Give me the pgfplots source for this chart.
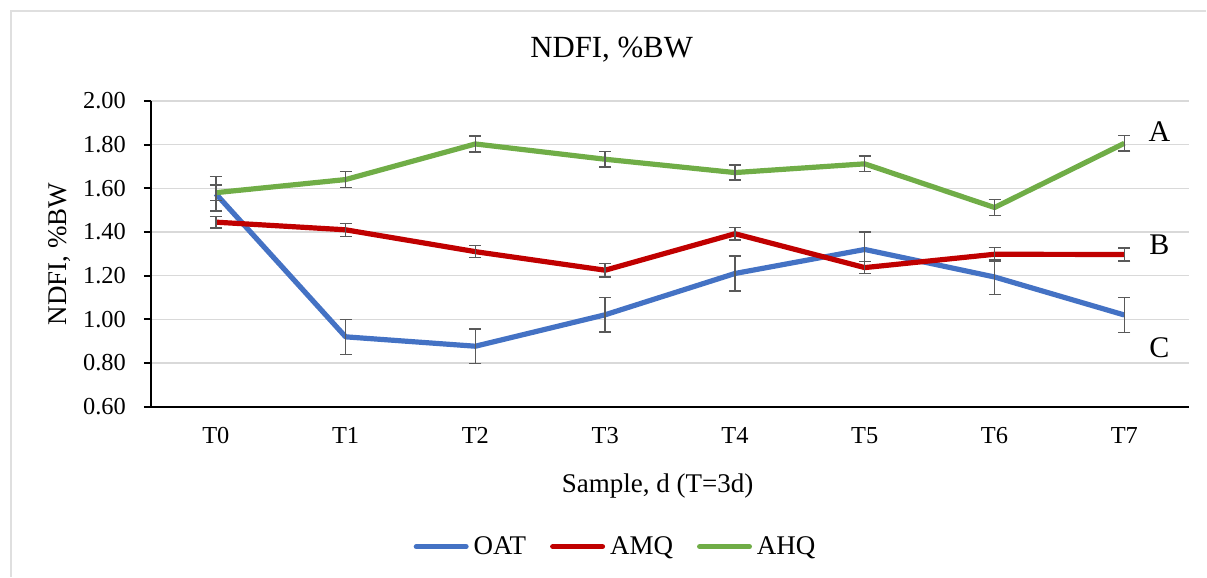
\documentclass[border=0pt]{standalone}
\usepackage{pgfplots}
\pgfplotsset{compat=1.18}
\usepackage{pgfplotstable}
\usepackage{fontspec}
\setmainfont{Liberation Serif}

\definecolor{oat}{HTML}{4472C4}
\definecolor{amq}{HTML}{C00000}
\definecolor{ahq}{HTML}{70AD47}
\definecolor{errc}{HTML}{595959}
\definecolor{gridc}{HTML}{D9D9D9}

\pgfplotstableread{
x y e
0 1.575 0.08
1 0.920 0.08
2 0.877 0.08
3 1.021 0.08
4 1.210 0.08
5 1.320 0.08
6 1.194 0.08
7 1.020 0.08
}\oatdata
\pgfplotstableread{
x y e
0 1.445 0.027
1 1.410 0.030
2 1.310 0.027
3 1.225 0.030
4 1.392 0.028
5 1.237 0.027
6 1.298 0.030
7 1.297 0.030
}\amqdata
\pgfplotstableread{
x y e
0 1.580 0.035
1 1.640 0.036
2 1.803 0.036
3 1.733 0.036
4 1.672 0.035
5 1.712 0.035
6 1.512 0.036
7 1.806 0.036
}\ahqdata

\begin{document}
\begin{tikzpicture}
\path (0,0) rectangle (603.5pt,288.5pt);
\draw[gray!25, line width=0.8pt] (5.5pt,0) -- (5.5pt,283pt) -- (603.5pt,283pt);
\begin{axis}[
  at={(75.5pt,85pt)}, anchor=south west,
  scale only axis, width=519.5pt, height=153pt,
  xmin=-0.5, xmax=7.5, ymin=0.6, ymax=2.0,
  axis x line*=bottom, axis y line*=left,
  axis line style={black, line width=1pt, -},
  xtick={0,1,2,3,4,5,6,7},
  xticklabels={T0,T1,T2,T3,T4,T5,T6,T7},
  minor xtick={-0.5,0.5,1.5,2.5,3.5,4.5,5.5,6.5,7.5},
  ytick={0.6,0.8,1.0,1.2,1.4,1.6,1.8,2.0},
  tick align=outside,
  x tick style={draw=none},
  minor x tick style={black, line width=1pt},
  minor tick length=4pt,
  y tick style={black, line width=1pt},
  major tick length=3.5pt,
  ymajorgrids, grid style={gridc, line width=0.8pt},
  tick label style={font=\fontsize{12.2}{14}\selectfont},
  /pgf/number format/assume math mode=true,
  yticklabel style={/pgf/number format/fixed, /pgf/number format/fixed zerofill, /pgf/number format/precision=2, xshift=-5.5pt},
  xticklabel style={yshift=-3.3pt},
  legend style={at={(0.4485,-0.4575)}, anchor=center, draw=none,
    font=\fontsize{13.5}{15}\selectfont, legend columns=3,
    /tikz/every even column/.append style={column sep=10pt},
    /tikz/every odd column/.append style={column sep=0.5pt}},
  legend cell align=left,
  legend image code/.code={\draw[#1, line cap=round] (1.3pt,0pt) -- (26.2pt,0pt);},
  clip=false,
]
\addplot[oat, line width=2.6pt, line join=round,
  error bars/.cd, y dir=both, y explicit,
  error bar style={errc, line width=0.75pt},
  error mark options={errc, rotate=90, mark size=3pt, line width=0.75pt}]
  table[x=x, y=y, y error=e]{\oatdata};
\addlegendentry{OAT}
\addplot[amq, line width=2.6pt, line join=round,
  error bars/.cd, y dir=both, y explicit,
  error bar style={errc, line width=0.75pt},
  error mark options={errc, rotate=90, mark size=3pt, line width=0.75pt}]
  table[x=x, y=y, y error=e]{\amqdata};
\addlegendentry{AMQ}
\addplot[ahq, line width=2.6pt, line join=round,
  error bars/.cd, y dir=both, y explicit,
  error bar style={errc, line width=0.75pt},
  error mark options={errc, rotate=90, mark size=3pt, line width=0.75pt}]
  table[x=x, y=y, y error=e]{\ahqdata};
\addlegendentry{AHQ}
\node[font=\fontsize{15}{17}\selectfont] at (axis cs:7.27,1.858) {A};
\node[font=\fontsize{15}{17}\selectfont] at (axis cs:7.27,1.34) {B};
\node[font=\fontsize{15}{17}\selectfont] at (axis cs:7.27,0.87) {C};
\end{axis}
\node[font=\fontsize{15.4}{17}\selectfont] at (306pt,263.5pt) {NDFI, \%BW};
\node[font=\fontsize{13.5}{15}\selectfont] at (329pt,45.5pt) {Sample, d (T=3d)};
\node[rotate=90, font=\fontsize{13.5}{15}\selectfont] at (30pt,161.5pt) {NDFI, \%BW};
\end{tikzpicture}
\end{document}
